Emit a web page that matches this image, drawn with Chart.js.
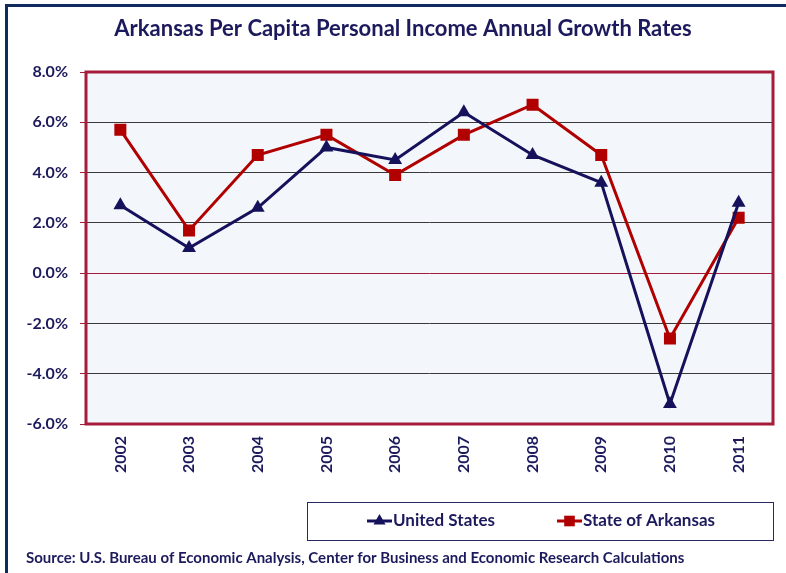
<!DOCTYPE html>
<html>
<head>
<meta charset="utf-8">
<script src="https://cdn.jsdelivr.net/npm/chart.js@4.4.0/dist/chart.umd.min.js"></script>
<style>
  html, body { margin: 0; padding: 0; background: #ffffff; }
  #wrap { width: 786px; height: 573px; position: relative; }
</style>
</head>
<body>
<div id="wrap"><canvas id="myChart" width="786" height="573"></canvas></div>
<script>
var years = ["2002", "2003", "2004", "2005", "2006", "2007", "2008", "2009", "2010", "2011"];
var usValues = [2.7, 1.0, 2.6, 5.0, 4.5, 6.4, 4.7, 3.6, -5.2, 2.8];
var arValues = [5.7, 1.7, 4.7, 5.5, 3.9, 5.5, 6.7, 4.7, -2.6, 2.2];
var seriesNames = ["United States", "State of Arkansas"];
var seriesColors = ["#15115a", "#b00000"];
var chartTitle = "Arkansas Per Capita Personal Income Annual Growth Rates";
var sourceText = "Source: U.S. Bureau of Economic Analysis, Center for Business and Economic Research Calculations";

var textColor = "#1c1a5c";
var crimson = "#a51d3a";
var fontName = "Lato, 'Open Sans', sans-serif";

// frame, plot background, plot border, title, legend box and source line
var decorations = {
  id: "decorations",
  beforeDraw: function(chart) {
    var ctx = chart.ctx, a = chart.chartArea;
    ctx.save();
    ctx.fillStyle = "#ffffff";
    ctx.fillRect(0, 0, chart.width, chart.height);
    ctx.strokeStyle = "#0e2a5e";
    ctx.lineWidth = 3;
    ctx.beginPath();
    ctx.moveTo(6.5, chart.height);
    ctx.lineTo(6.5, 5.5);
    ctx.lineTo(chart.width, 5.5);
    ctx.stroke();
    ctx.fillStyle = "#f3f7fb";
    ctx.fillRect(a.left, a.top, a.right - a.left, a.bottom - a.top);
    ctx.restore();
  },
  afterDatasetsDraw: function(chart) {
    var ctx = chart.ctx, a = chart.chartArea;
    ctx.save();
    ctx.strokeStyle = crimson;
    ctx.lineWidth = 3;
    ctx.strokeRect(a.left, a.top, a.right - a.left, a.bottom - a.top);

    ctx.fillStyle = textColor;
    ctx.textAlign = "center";
    ctx.textBaseline = "middle";
    ctx.font = "bold 22px " + fontName;
    ctx.fillText(chartTitle, 403, 29);

    // legend
    ctx.strokeStyle = "#2a2766";
    ctx.lineWidth = 1;
    ctx.strokeRect(307.5, 502.5, 466, 38);
    ctx.font = "bold 17px " + fontName;
    ctx.textAlign = "left";
    var xs = [367, 557];
    var styles = ["triangle", "rect"];
    var radii = [7, 7.5];
    for (var i = 0; i < seriesNames.length; i++) {
      ctx.strokeStyle = seriesColors[i];
      ctx.lineWidth = 3;
      ctx.beginPath();
      ctx.moveTo(xs[i], 521);
      ctx.lineTo(xs[i] + 25, 521);
      ctx.stroke();
      ctx.fillStyle = seriesColors[i];
      Chart.helpers.drawPoint(ctx, {pointStyle: styles[i], radius: radii[i], borderWidth: 0}, xs[i] + 12.5, 521);
      ctx.fillStyle = textColor;
      ctx.fillText(seriesNames[i], xs[i] + 26, 521);
    }

    ctx.font = "bold 15px " + fontName;
    ctx.fillText(sourceText, 26, 558);
    ctx.restore();
  }
};

new Chart("myChart", {
  type: "line",
  data: {
    labels: years,
    datasets: [{
      label: seriesNames[0],
      data: usValues,
      borderColor: seriesColors[0],
      backgroundColor: seriesColors[0],
      borderWidth: 3,
      pointStyle: "triangle",
      pointRadius: 8,
      pointBorderWidth: 0,
      tension: 0
    }, {
      label: seriesNames[1],
      data: arValues,
      borderColor: seriesColors[1],
      backgroundColor: seriesColors[1],
      borderWidth: 3,
      pointStyle: "rect",
      pointRadius: 8.5,
      pointBorderWidth: 0,
      tension: 0
    }]
  },
  options: {
    responsive: false,
    animation: false,
    layout: { padding: { left: 0, right: 13, top: 72, bottom: 0 } },
    plugins: {
      legend: { display: false },
      title: { display: false },
      tooltip: { enabled: false }
    },
    scales: {
      x: {
        offset: true,
        grid: { display: false, drawTicks: false },
        border: { display: false },
        afterFit: function(scale) { scale.height = 149; },
        ticks: {
          color: textColor,
          font: { family: fontName, size: 16, weight: "bold" },
          minRotation: 90,
          maxRotation: 90,
          padding: 12
        }
      },
      y: {
        min: -6,
        max: 8,
        afterFit: function(scale) { scale.width = 86; },
        border: { display: false },
        grid: {
          color: function(c) { return c.tick && c.tick.value === 0 ? crimson : "#3a3a3a"; },
          tickColor: crimson,
          tickLength: 6,
          lineWidth: 1
        },
        ticks: {
          stepSize: 2,
          color: textColor,
          padding: 12,
          font: { family: fontName, size: 16, weight: "bold" },
          callback: function(v) { return v.toFixed(1) + "%"; }
        }
      }
    }
  },
  plugins: [decorations]
});
</script>
</body>
</html>
